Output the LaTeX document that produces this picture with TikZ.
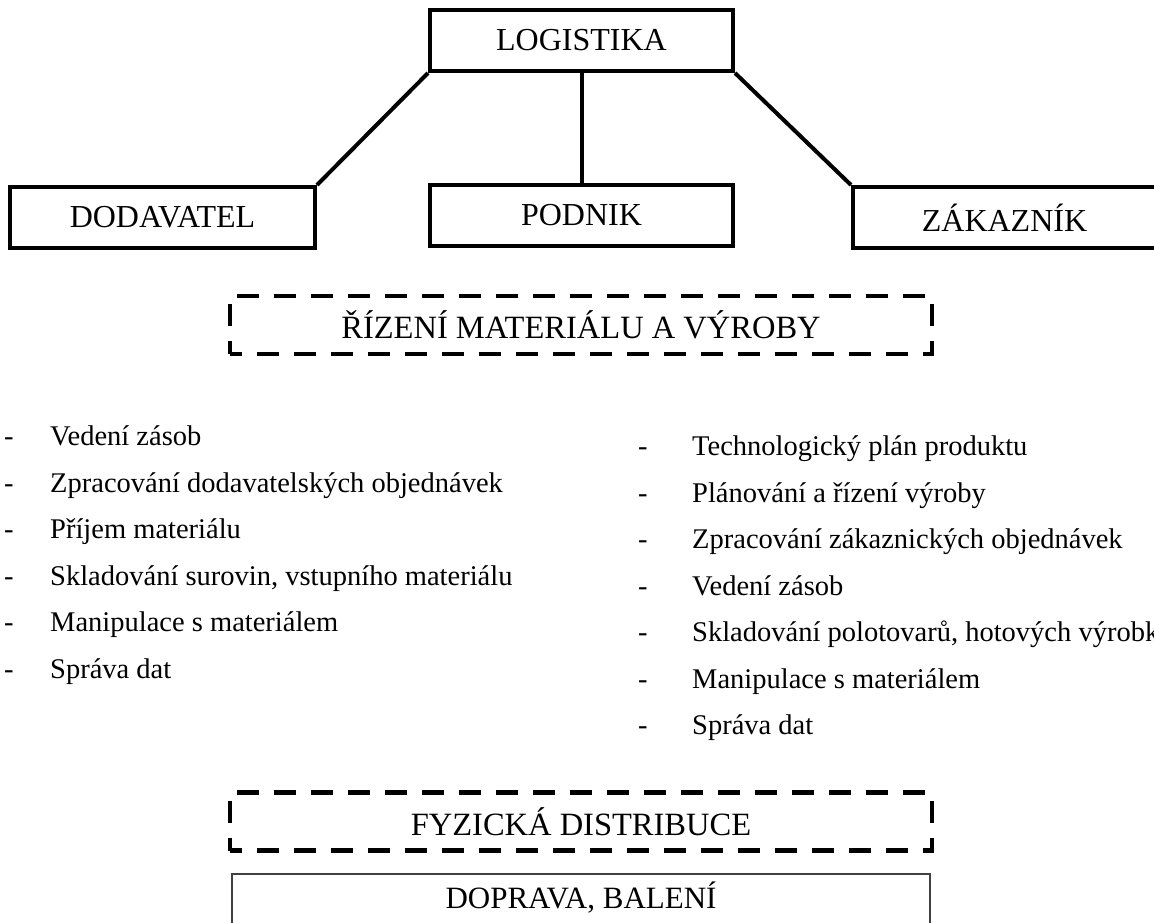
\documentclass[tikz,border=0pt]{standalone}
\usepackage{fontspec}
\setmainfont{Liberation Serif}
\begin{document}
\begin{tikzpicture}[x=1pt,y=-1pt,
  box/.style={draw, line width=4pt, minimum height=61pt, inner sep=0pt,
    font=\fontsize{32}{38}\selectfont},
  dbox/.style={draw, line width=4.5pt, dash pattern=on 22pt off 15pt, dash phase=10pt,
    minimum width=702pt, minimum height=58pt, inner sep=0pt,
    font=\fontsize{32.5}{38}\selectfont},
  conn/.style={line width=4pt},
  itemtext/.style={anchor=base west, inner sep=0pt, font=\fontsize{28.5}{34}\selectfont},
  plainbox/.style={draw=black!75, line width=1.5pt, minimum width=698pt, minimum height=80pt, inner sep=0pt},
  plaintext/.style={inner sep=0pt, font=\fontsize{31}{36}\selectfont}]
\clip (0,0) rectangle (1154,922);

% top level
\node[box, minimum width=303pt] (log) at (581.5,40.5) {LOGISTIKA};
\node[box, minimum width=305pt] (dod) at (162.5,217.5) {DODAVATEL};
\node[box, minimum width=303pt] (pod) at (581.5,215) {PODNIK};
\node[box, minimum width=303pt] (zak) at (1004.5,217.5) {ZÁKAZNÍK};

\draw[conn] (log.south west) -- (dod.north east);
\draw[conn] (log.south) -- (pod.north);
\draw[conn] (log.south east) -- (zak.north west);

% dashed headers
\node[dbox] (rizeni) at (581,325) {ŘÍZENÍ MATERIÁLU A VÝROBY};
\node[dbox] (fyz) at (581,821.5) {FYZICKÁ DISTRIBUCE};

% left list
\foreach \t [count=\i] in {Vedení zásob,
  Zpracování dodavatelských objednávek,
  Příjem materiálu,
  {Skladování surovin, vstupního materiálu},
  Manipulace s materiálem,
  Správa dat}{
  \node[itemtext] (ld\i) at (4,{399+46.5*\i}) {-};
  \node[itemtext] (lt\i) at (50,{399+46.5*\i}) {\t};
}

% right list
\foreach \t [count=\i] in {Technologický plán produktu,
  Plánování a řízení výroby,
  Zpracování zákaznických objednávek,
  Vedení zásob,
  {Skladování polotovarů, hotových výrobků},
  Manipulace s materiálem,
  Správa dat}{
  \node[itemtext] (rd\i) at (638,{409+46.5*\i}) {-};
  \node[itemtext] (rt\i) at (692,{409+46.5*\i}) {\t};
}

% bottom box
\node[plainbox] (dop) at (581,914) {};
\node[plaintext] (doptext) at (581,898) {DOPRAVA, BALENÍ};
\end{tikzpicture}
\end{document}
